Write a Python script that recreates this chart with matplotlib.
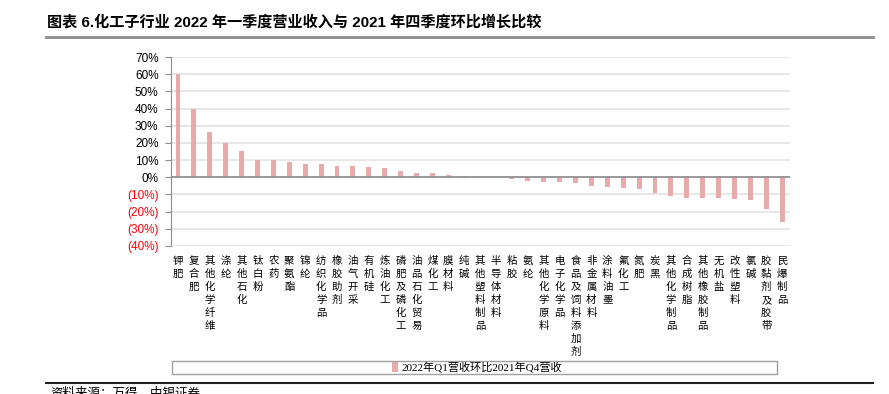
import matplotlib.pyplot as plt
from matplotlib.patches import Rectangle
from matplotlib.lines import Line2D

plt.rcParams['font.family'] = ['Liberation Sans', 'Noto Sans CJK SC']

cats = ["钾肥", "复合肥", "其他化学纤维", "涤纶", "其他石化", "钛白粉", "农药", "聚氨酯", "锦纶",
        "纺织化学品", "橡胶助剂", "油气开采", "有机硅", "炼油化工", "磷肥及磷化工", "油品石化贸易",
        "煤化工", "膜材料", "纯碱", "其他塑料制品", "半导体材料", "粘胶", "氨纶", "其他化学原料",
        "电子化学品", "食品及饲料添加剂", "非金属材料", "涂料油墨", "氟化工", "氮肥", "炭黑",
        "其他化学制品", "合成树脂", "其他橡胶制品", "无机盐", "改性塑料", "氯碱", "胶黏剂及胶带", "民爆制品"]
vals = [60.0, 40.0, 26.5, 19.8, 15.4, 10.0, 10.0, 8.6, 7.8,
        7.6, 6.4, 6.4, 6.0, 5.4, 3.7, 2.5, 2.3, 1.2, 0.8,
        0.3, -0.6, -0.8, -2.0, -2.5, -2.7, -3.5, -4.9, -5.5, -6.5,
        -6.9, -9.4, -10.8, -11.8, -11.8, -12.0, -12.5, -13.5, -18.2, -25.9]
yticks = [70, 60, 50, 40, 30, 20, 10, 0, -10, -20, -30, -40]
series_name = "2022年Q1营收环比2021年Q4营收"
title = "图表 6.化工子行业 2022 年一季度营业收入与 2021 年四季度环比增长比较"
source = "资料来源：万得，中银证券"

W, H = 889, 394
fig = plt.figure(figsize=(W / 100, H / 100), dpi=100)
ax = fig.add_axes([171 / W, 1 - 246 / H, (790 - 171) / W, (246 - 57) / H])

x = list(range(len(cats)))
ax.bar(x, vals, width=0.31, color='#E8ABAB', zorder=3)
ax.set_xlim(-0.44, len(cats) - 0.51)
ax.set_ylim(-40, 70)
ax.set_yticks(yticks)
labels = []
for v in yticks:
    labels.append(f"{v}%" if v >= 0 else f"({-v}%)")
ax.set_yticklabels(labels, fontsize=8.5)
for t, v in zip(ax.get_yticklabels(), yticks):
    if v < 0:
        t.set_color('#FF0000')
ax.grid(axis='y', color='#E3E3E3', linewidth=1.2, zorder=0)
ax.axhline(0, color='#8C8C8C', linewidth=1.2, zorder=4)
for s in ['top', 'right', 'bottom']:
    ax.spines[s].set_visible(False)
ax.spines['left'].set_color('#8C8C8C')
ax.tick_params(axis='y', length=4, color='#8C8C8C', pad=5)
ax.tick_params(axis='x', length=0, pad=7)
ax.set_xticks(x)
ax.set_xticklabels(['\n'.join(c) for c in cats], fontsize=7.5,
                   family=['Noto Sans CJK SC'], va='top', linespacing=1.37)

# title and rules
fig.text(47 / W, 1 - 22 / H, title, fontsize=10.9, fontweight='bold', va='center',
         family=['Liberation Sans', 'Noto Sans CJK SC'])
fig.add_artist(Line2D([46 / W, 873 / W], [1 - 37 / H, 1 - 37 / H], color='#8C8C8C', linewidth=2))
fig.add_artist(Line2D([46 / W, 873 / W], [1 - 383 / H, 1 - 383 / H], color='#222222', linewidth=1.5))
fig.text(50 / W, 1 - 387 / H, source, fontsize=9, style='italic', va='top',
         family=['Noto Sans CJK SC'])

# legend box
fig.add_artist(Rectangle((172 / W, 1 - 374 / H), (777 - 172) / W, 13 / H,
                         transform=fig.transFigure, fill=False, edgecolor='#A0A0A0', linewidth=1))
leg = fig.legend([ax.patches[0]], [series_name], loc='center', frameon=False,
                 bbox_to_anchor=(477 / W, 1 - 367.5 / H), handlelength=0.5, handleheight=0.9,
                 handletextpad=0.3, borderpad=0,
                 prop={'family': ['Liberation Serif', 'Noto Sans CJK SC'], 'size': 8})

fig.savefig('out.png', dpi=100)
